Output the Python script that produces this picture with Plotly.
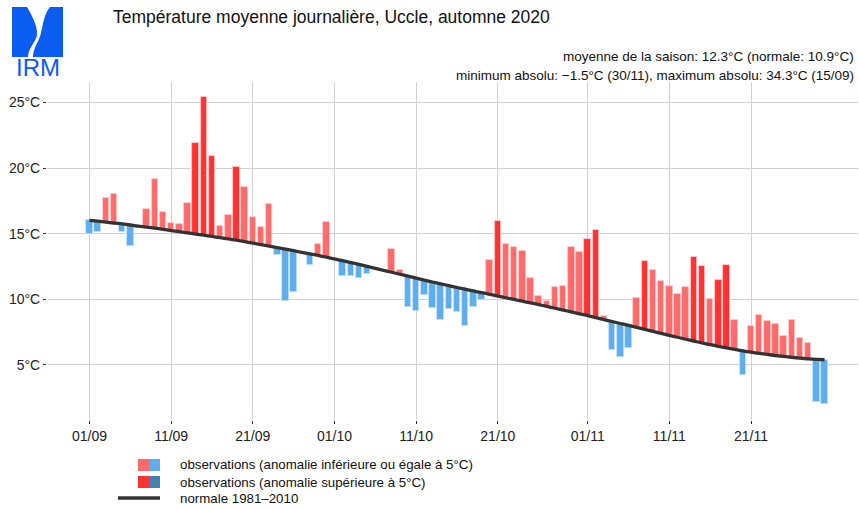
import pandas as pd
import plotly.graph_objects as go

# daily mean temperature, Uccle, autumn 2020 (01/09 .. 30/11)
days = pd.date_range("2020-09-01", "2020-11-30", freq="D")

temp_obs = [
    15.0, 15.15, 17.75, 18.0, 15.1, 14.05, 15.4, 16.9, 19.2, 16.65,
    15.8, 15.7, 17.35, 21.9, 25.4, 20.95, 15.6, 16.45, 20.1, 18.55,
    16.25, 15.5, 17.25, 13.4, 9.85, 10.55, 13.55, 12.6, 14.2, 15.9,
    13.05, 11.8, 11.8, 11.6, 11.9, 12.35, 12.2, 13.8, 12.2, 9.45,
    9.1, 10.3, 9.35, 8.45, 9.3, 9.0, 8.0, 9.4, 9.95, 13.0,
    16.0, 14.25, 14.0, 13.7, 11.6, 10.25, 9.9, 10.95, 11.05, 13.95,
    13.6, 14.6, 15.3, 8.7, 6.15, 5.6, 6.3, 10.1, 12.95, 12.25,
    11.4, 11.0, 10.4, 10.95, 13.2, 12.55, 10.05, 11.45, 12.6, 8.45,
    4.25, 7.95, 8.8, 8.35, 8.1, 7.2, 8.45, 7.05, 6.65, 2.2,
    2.0,
]

# normale 1981-2010
temp_norm = [
    16.02, 15.95, 15.88, 15.81, 15.74, 15.66, 15.58, 15.50, 15.42, 15.33,
    15.24, 15.15, 15.06, 14.97, 14.88, 14.79, 14.70, 14.60, 14.50, 14.39,
    14.28, 14.17, 14.06, 13.94, 13.82, 13.70, 13.58, 13.46, 13.34, 13.21,
    13.08, 12.94, 12.80, 12.66, 12.51, 12.36, 12.21, 12.06, 11.91, 11.76,
    11.61, 11.46, 11.32, 11.18, 11.04, 10.90, 10.77, 10.64, 10.51, 10.38,
    10.25, 10.12, 9.99, 9.86, 9.73, 9.60, 9.46, 9.32, 9.18, 9.04,
    8.90, 8.76, 8.61, 8.46, 8.31, 8.16, 8.01, 7.86, 7.71, 7.56,
    7.41, 7.26, 7.11, 6.96, 6.82, 6.68, 6.55, 6.42, 6.30, 6.18,
    6.07, 5.97, 5.88, 5.80, 5.72, 5.65, 5.58, 5.52, 5.47, 5.43,
    5.40,
]

tick_days = [0, 10, 20, 30, 40, 50, 61, 71, 81]
tick_labels = ["01/09", "11/09", "21/09", "01/10", "11/10", "21/10", "01/11", "11/11", "21/11"]
y_ticks = [5, 10, 15, 20, 25]

RED_LIGHT, RED_STRONG = "#ff6b6b", "#ff3131"
BLUE_LIGHT, BLUE_STRONG = "#5eaeee", "#4580b3"
FONT = "Liberation Sans, Arial, sans-serif"

x = list(range(len(days)))
anom = [o - n for o, n in zip(temp_obs, temp_norm)]


def bar_colour(a):
    if a >= 0:
        return RED_STRONG if a > 5 else RED_LIGHT
    return BLUE_STRONG if a < -5 else BLUE_LIGHT


colours = [bar_colour(a) for a in anom]
edges = ["#ffc9c9" if c.startswith("#ff") else "#c6e2f8" for c in colours]

fig = go.Figure()

fig.add_trace(go.Bar(
    x=x, y=anom, base=temp_norm,
    width=0.8,
    marker=dict(color=colours, line=dict(color=edges, width=0.8)),
    showlegend=False,
))

fig.add_trace(go.Scatter(
    x=x, y=temp_norm, mode="lines",
    line=dict(color="#333333", width=3.3, shape="spline", smoothing=0.6),
    showlegend=False,
))

# plot area in pixels (for placing logo / legend / texts)
W, H = 859, 510
L, R, T, B = 47, 858, 82, 420


def px(xp, yp):
    return (xp - L) / (R - L), (B - yp) / (B - T)


shapes = []
annotations = []

# IRM logo
x0, y0 = px(12, 7)
x1, y1 = px(63, 57)
shapes.append(dict(type="rect", xref="paper", yref="paper", x0=x0, y0=y1, x1=x1, y1=y0,
                   fillcolor="#0b5cf0", line=dict(width=0), layer="above"))
pts = [(27, 7), (50, 7), (44, 14), (43, 25), (41, 33), (39, 42), (33, 48), (33, 57),
       (28, 57), (28, 48), (36, 42), (37, 35), (38, 26), (31, 14), (27, 7)]
conv = [px(a, b) for a, b in pts]
path = "M {} {} L {} {} C {} {} {} {} {} {} C {} {} {} {} {} {} L {} {} C {} {} {} {} {} {} C {} {} {} {} {} {} Z".format(
    *[v for p in conv for v in p])
shapes.append(dict(type="path", xref="paper", yref="paper", path=path,
                   fillcolor="white", line=dict(width=0), layer="above"))
annotations.append(dict(text="IRM", xref="paper", yref="paper", x=px(37.5, 0)[0], y=px(0, 67)[1],
                        xanchor="center", yanchor="middle", showarrow=False,
                        font=dict(family=FONT, size=24, color="#0b5cf0")))

# title and subtitles
annotations.append(dict(text="Température moyenne journalière, Uccle, automne 2020",
                        xref="paper", yref="paper", x=px(111, 0)[0], y=px(0, 17)[1],
                        xanchor="left", yanchor="middle", showarrow=False,
                        font=dict(family=FONT, size=17.5, color="#111111")))
annotations.append(dict(text="moyenne de la saison: 12.3°C (normale: 10.9°C)",
                        xref="paper", yref="paper", x=px(856, 0)[0], y=px(0, 56)[1],
                        xanchor="right", yanchor="middle", showarrow=False,
                        font=dict(family=FONT, size=13.5, color="#111111")))
annotations.append(dict(text="minimum absolu: \u22121.5°C (30/11), maximum absolu: 34.3°C (15/09)",
                        xref="paper", yref="paper", x=px(856, 0)[0], y=px(0, 75)[1],
                        xanchor="right", yanchor="middle", showarrow=False,
                        font=dict(family=FONT, size=13.5, color="#111111")))

# custom legend
legend_rows = [
    (465, RED_LIGHT, BLUE_LIGHT, "observations (anomalie inférieure ou égale à 5°C)"),
    (482, RED_STRONG, BLUE_STRONG, "observations (anomalie supérieure à 5°C)"),
]
for yc, c1, c2, label in legend_rows:
    for cx0, cx1, c in [(138, 149, c1), (149, 160, c2)]:
        a0, b0 = px(cx0, yc - 6)
        a1, b1 = px(cx1, yc + 6)
        shapes.append(dict(type="rect", xref="paper", yref="paper", x0=a0, x1=a1, y0=b1, y1=b0,
                           fillcolor=c, line=dict(width=0)))
    annotations.append(dict(text=label, xref="paper", yref="paper", x=px(178, 0)[0], y=px(0, yc)[1],
                            xanchor="left", yanchor="middle", showarrow=False,
                            font=dict(family=FONT, size=13.3, color="#111111")))
la, lb = px(118, 498)
lc, _ = px(160, 498)
shapes.append(dict(type="line", xref="paper", yref="paper", x0=la, x1=lc, y0=lb, y1=lb,
                   line=dict(color="#333333", width=3.3)))
annotations.append(dict(text="normale 1981\u20132010", xref="paper", yref="paper",
                        x=px(178, 0)[0], y=px(0, 498)[1], xanchor="left", yanchor="middle",
                        showarrow=False, font=dict(family=FONT, size=13.3, color="#111111")))

fig.update_layout(
    width=W, height=H,
    margin=dict(l=L, r=W - R, t=T, b=H - B),
    paper_bgcolor="white", plot_bgcolor="white",
    font=dict(family=FONT, size=13, color="#222222"),
    bargap=0, showlegend=False,
    shapes=shapes, annotations=annotations,
)

fig.update_xaxes(
    range=[-5.2, 94.1], tickvals=tick_days, ticktext=tick_labels,
    showgrid=True, gridcolor="#d2d2d2", gridwidth=1,
    ticks="outside", ticklen=3, tickcolor="#333333",
    showline=False, zeroline=False,
    tickfont=dict(family=FONT, size=14, color="#222222"),
)
fig.update_yaxes(
    range=[0.81, 26.55], tickvals=y_ticks, ticktext=[f"{v}°C" for v in y_ticks],
    showgrid=True, gridcolor="#d2d2d2", gridwidth=1,
    ticks="outside", ticklen=3, tickcolor="#333333",
    showline=False, zeroline=False,
    tickfont=dict(family=FONT, size=14, color="#222222"),
)

fig.write_html("out.html", config={"displayModeBar": False},
               post_script="document.body.style.margin='0px';")
